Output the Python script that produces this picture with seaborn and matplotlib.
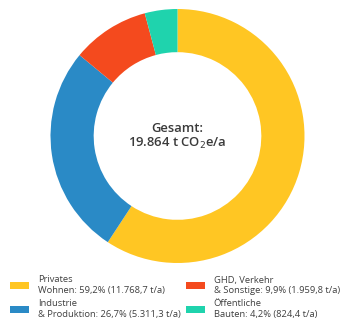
import matplotlib
matplotlib.use("Agg")
import matplotlib.pyplot as plt
import seaborn as sns
from matplotlib.patches import Patch

categories = ["Privates\nWohnen", "Industrie\n& Produktion", "GHD, Verkehr\n& Sonstige", "Öffentliche\nBauten"]
values = [11768.7, 5311.3, 1959.8, 824.4]
percents = ["59,2%", "26,7%", "9,9%", "4,2%"]
value_labels = ["11.768,7", "5.311,3", "1.959,8", "824,4"]
colors = ["#FFC623", "#2A8AC6", "#F44A1E", "#1FD3AD"]
total_label = "19.864"

sns.set_theme(style="white")
plt.rcParams["font.family"] = ["Open Sans", "DejaVu Sans"]

W, H = 353, 332
fig = plt.figure(figsize=(W / 100, H / 100), dpi=100)
cx, cy, r = 177.5, 136, 127
ax = fig.add_axes([(cx - r) / W, (H - cy - r) / H, 2 * r / W, 2 * r / H])
ax.pie(values, colors=colors, startangle=90, counterclock=False,
       radius=1, wedgeprops=dict(width=0.34, edgecolor="none"))
ax.set_xlim(-1, 1)
ax.set_ylim(-1, 1)
ax.set_aspect("equal")
ax.axis("off")

ax.text(0, 0.0315, "Gesamt:", ha="center", va="baseline", fontsize=9.4,
        fontweight="semibold", color="#3a3a3a")
ax.text(0, -0.087, total_label + " t CO$_2$e/a", ha="center", va="baseline",
        fontsize=9.4, fontweight="semibold", color="#3a3a3a")

handles = [Patch(facecolor=c, edgecolor="none") for c in colors]
labels = [f"{c}: {p} ({v} t/a)" for c, p, v in zip(categories, percents, value_labels)]
leg = fig.legend(handles, labels, ncol=2, loc="upper left",
                 bbox_to_anchor=(10 / W, 1 - 275.5 / H), frameon=False,
                 fontsize=6.75, handlelength=2.0, handleheight=0.7,
                 handletextpad=0.95, columnspacing=0.6, labelspacing=0.45,
                 borderaxespad=0, borderpad=0)
for t in leg.get_texts():
    t.set_color("#3f3f3f")
    t.set_linespacing(1.25)

fig.savefig("out.png", dpi=100, facecolor="white")
